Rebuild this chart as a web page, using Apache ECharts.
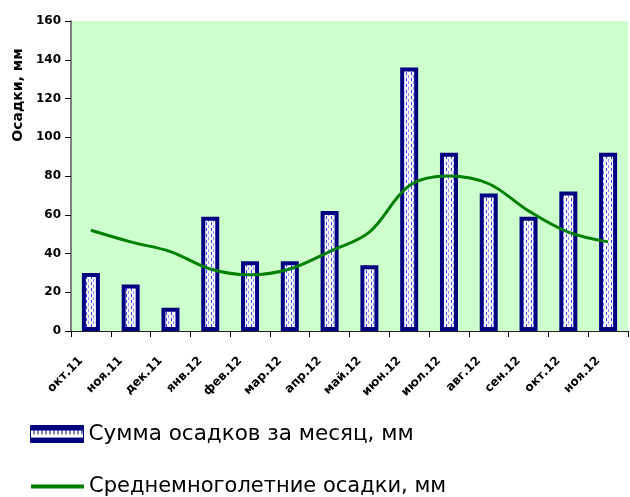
<!DOCTYPE html>
<html><head><meta charset="utf-8">
<script src="https://cdn.jsdelivr.net/npm/echarts@6/dist/echarts.min.js"></script>
<style>html,body{margin:0;padding:0;background:#fff}#c{width:630px;height:497px}</style>
</head><body><div id="c"></div>
<script>
const categories = ['окт.11','ноя.11','дек.11','янв.12','фев.12','мар.12','апр.12','май.12','июн.12','июл.12','авг.12','сен.12','окт.12','ноя.12'];
const monthlySum = [30, 24, 12, 59, 36, 36, 62, 34, 136, 92, 71, 59, 72, 92];
const longTermAvg = [52, 46, 41, 32, 29, 32, 41, 51, 75, 80, 76, 62, 51, 46];
const yTicks = [0, 20, 40, 60, 80, 100, 120, 140, 160];
const barName = 'Сумма осадков за месяц, мм';
const lineName = 'Среднемноголетние осадки, мм';
const yName = 'Осадки, мм';

const FONT = 'DejaVu Sans, Verdana, sans-serif';

// bar fill: white with sparse blue vertical dashes
const pc = document.createElement('canvas');
pc.width = 5; pc.height = 6;
const g = pc.getContext('2d');
g.fillStyle = '#f7f7ff'; g.fillRect(0,0,5,6);
g.fillStyle = '#3c3cff'; g.fillRect(1,0,1,3);
g.fillStyle = '#8c8cff'; g.fillRect(3,3,1,3);

// legend icon fill: navy with white band and navy teeth
const lc = document.createElement('canvas');
lc.width = 4; lc.height = 17;
const h = lc.getContext('2d');
h.fillStyle = '#000080'; h.fillRect(0,0,4,17);
h.fillStyle = '#ffffff'; h.fillRect(0,5,4,7);
h.fillStyle = '#000080'; h.fillRect(3,5,1,4);

const chart = echarts.init(document.getElementById('c'));
chart.setOption({
  animation: false,
  textStyle: {fontFamily: FONT},
  grid: {left: 71, right: 2, top: 21, bottom: 166, show: true, backgroundColor: '#ccffcc', borderWidth: 0},
  legend: [{
    orient: 'vertical', left: 30, top: 423, padding: 0, itemWidth: 53, itemHeight: 17,
    textStyle: {fontSize: 21.5, color: '#000', fontFamily: FONT},
    data: [{name: barName, icon: 'rect', itemStyle: {color: {image: lc, repeat: 'repeat'}, borderColor: '#000080', borderWidth: 1}}]
  }, {
    orient: 'vertical', left: 31, top: 476, padding: 0, itemWidth: 53, itemHeight: 4,
    textStyle: {fontSize: 21, color: '#000', fontFamily: FONT},
    data: [{name: lineName, icon: 'rect', itemStyle: {color: '#008000'}}]
  }],
  xAxis: {
    type: 'category', data: categories, boundaryGap: true,
    axisLine: {lineStyle: {color: '#222', width: 1}},
    axisTick: {show: true, alignWithLabel: false, length: 6, lineStyle: {color: '#000'}},
    axisLabel: {rotate: 45, fontSize: 12, fontWeight: 'bold', color: '#000', margin: 18, padding: [0, 14, 0, 0], interval: 0, fontFamily: FONT}
  },
  yAxis: {
    type: 'value', min: yTicks[0], max: yTicks[yTicks.length-1], interval: 20,
    axisLine: {show: true, lineStyle: {color: '#808080', width: 2}},
    axisTick: {show: true, length: 6, lineStyle: {color: '#000'}},
    splitLine: {show: false},
    axisLabel: {fontSize: 12, fontWeight: 'bold', color: '#000', margin: 10, fontFamily: FONT}
  },
  graphic: [{
    type: 'text', x: 18, y: 95, rotation: Math.PI/2,
    style: {text: yName, font: 'bold 14px ' + FONT, fill: '#000', textAlign: 'center', textVerticalAlign: 'middle'}
  }],
  series: [{
    name: barName, type: 'bar', data: monthlySum, barWidth: 18,
    itemStyle: {color: {image: pc, repeat: 'repeat'}, borderColor: '#000080', borderWidth: 4}
  }, {
    name: lineName, type: 'line', data: longTermAvg, smooth: 0.35, symbol: 'none',
    lineStyle: {color: '#008000', width: 3}, itemStyle: {color: '#008000'}
  }]
});
</script></body></html>
